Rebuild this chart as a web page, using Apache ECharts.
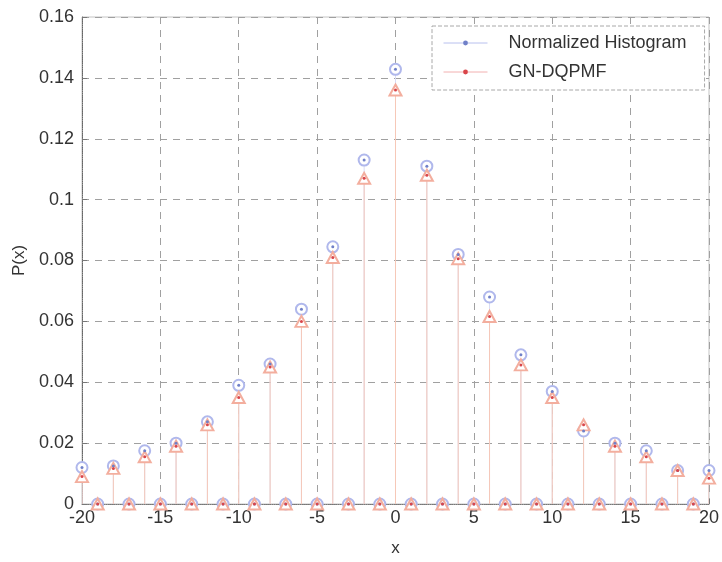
<!DOCTYPE html>
<html>
<head>
<meta charset="utf-8">
<script src="https://cdn.jsdelivr.net/npm/echarts@6/dist/echarts.min.js"></script>
<style>
html,body{margin:0;padding:0;background:#fff;}
#c{width:722px;height:562px;}
</style>
</head>
<body>
<div id="c"></div>
<script>
const xValues = [-20,-19,-18,-17,-16,-15,-14,-13,-12,-11,-10,-9,-8,-7,-6,-5,-4,-3,-2,-1,0,1,2,3,4,5,6,7,8,9,10,11,12,13,14,15,16,17,18,19,20];
const histogram = [0.012,0,0.0125,0,0.0175,0,0.020,0,0.027,0,0.039,0,0.046,0,0.064,0,0.0845,0,0.113,0,0.1428,0,0.111,0,0.082,0,0.068,0,0.049,0,0.037,0,0.024,0,0.020,0,0.0175,0,0.011,0,0.011];
const gnDqpmf = [0.009,0,0.0117,0,0.0155,0,0.019,0,0.026,0,0.035,0,0.045,0,0.060,0,0.081,0,0.107,0,0.136,0,0.108,0,0.0806,0,0.0616,0,0.0457,0,0.035,0,0.026,0,0.019,0,0.0155,0,0.011,0,0.0085];
const xTicks = [-20,-15,-10,-5,0,5,10,15,20];
const yTicks = [0,0.02,0.04,0.06,0.08,0.1,0.12,0.14,0.16];
const seriesNames = ['Normalized Histogram','GN-DQPMF'];

const histPts = xValues.map((x,i)=>[x,histogram[i]]);
const pmfPts = xValues.map((x,i)=>[x,gnDqpmf[i]]);

function stem(color){
  return function(params, api){
    const p1 = api.coord([api.value(0), 0]);
    const p2 = api.coord([api.value(0), api.value(1)]);
    return {type:'line', shape:{x1:p1[0],y1:p1[1],x2:p2[0],y2:p2[1]}, style:{stroke:color, lineWidth:1}};
  };
}

const FONT = 'Liberation Sans, Arial, sans-serif';
const chart = echarts.init(document.getElementById('c'), null, {renderer:'canvas'});
chart.setOption({
  animation:false,
  backgroundColor:'#ffffff',
  grid:{left:82, right:12, top:17, bottom:51, show:true, borderColor:'#c4c4c4', borderWidth:1},
  xAxis:{
    type:'value', min:-20, max:20, interval:5,
    name:'x', nameLocation:'middle', nameGap:36,
    nameTextStyle:{fontFamily:FONT, fontSize:17, color:'#333'},
    axisLine:{show:true, onZero:false, lineStyle:{color:'#777', type:'dotted'}},
    axisTick:{show:true, inside:true, length:5, lineStyle:{color:'#777'}},
    axisLabel:{fontFamily:FONT, fontSize:18, color:'#333', margin:5,
      formatter:v=> xTicks.includes(v)? String(v):''},
    splitLine:{show:true, lineStyle:{color:'#a0a0a0', type:[7,6], width:1}}
  },
  yAxis:{
    type:'value', min:0, max:0.16, interval:0.02,
    name:'P(x)', nameLocation:'middle', nameGap:54, nameRotate:90,
    nameTextStyle:{fontFamily:FONT, fontSize:17, color:'#333'},
    axisLine:{show:true, onZero:false, lineStyle:{color:'#666', type:'dotted'}},
    axisTick:{show:true, inside:true, length:5, lineStyle:{color:'#777'}},
    axisLabel:{fontFamily:FONT, fontSize:18, color:'#333', margin:8,
      formatter:v=>{ const t = yTicks.find(k=>Math.abs(k-v)<1e-9); return t===undefined? '' : String(+t.toFixed(2)); }},
    splitLine:{show:true, lineStyle:{color:'#a0a0a0', type:[7,6], width:1}}
  },
  legend:{
    orient:'vertical', left:432, top:26,
    data:seriesNames,
    backgroundColor:'#fff', borderColor:'#a8a8a8', borderWidth:1, borderType:'dashed',
    padding:[8,18,9,11], itemGap:11, itemWidth:44, itemHeight:6,
    textStyle:{fontFamily:FONT, fontSize:18, color:'#333', padding:[0,0,0,16]},
    lineStyle:{opacity:1, width:1}
  },
  series:[
    {type:'custom', name:'histStem', renderItem:stem('#d8dcf5'), data:histPts, z:1, clip:true, silent:true},
    {type:'custom', name:'pmfStem', renderItem:stem('#f6c8b8'), data:pmfPts, z:2, clip:true, silent:true},
    {type:'line', name:'hMarks', data:histPts, symbol:'emptyCircle', symbolSize:11,
      itemStyle:{color:'#b0b8ec', borderWidth:1}, lineStyle:{opacity:0}, z:3, silent:true},
    {type:'line', name:'pMarks', data:pmfPts, symbol:'emptyTriangle', symbolSize:[12,11],
      itemStyle:{color:'#f3ae9e', borderWidth:1}, lineStyle:{opacity:0}, z:4, silent:true},
    {type:'line', name:seriesNames[0], data:histPts, symbol:'circle', symbolSize:3,
      itemStyle:{color:'#7080c8'}, lineStyle:{opacity:0, color:'#b8c0ee', width:1}, z:5, silent:true},
    {type:'line', name:seriesNames[1], data:pmfPts, symbol:'circle', symbolSize:3,
      itemStyle:{color:'#d9454a'}, lineStyle:{opacity:0, color:'#f2b0b0', width:1}, z:6, silent:true}
  ]
});
</script>
</body>
</html>
